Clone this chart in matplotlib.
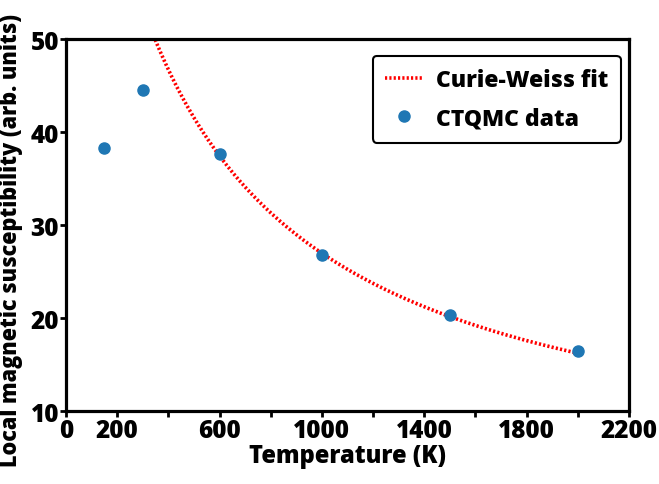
import numpy as np
import matplotlib
matplotlib.use("Agg")
import matplotlib.pyplot as plt

# Data
temperature = [150, 300, 600, 1000, 1500, 2000]
chi_data = [38.3, 44.5, 37.6, 26.8, 20.3, 16.5]

# Curie-Weiss fit parameters: chi = chi0 + C / (T - theta)
cw_chi0 = 1.4
cw_C = 35200.0
cw_theta = -377.0
fit_T_min, fit_T_max = 300, 2000

x_ticks = list(range(0, 2201, 200))
x_tick_labels = ["0", "200", "", "600", "", "1000", "", "1400", "", "1800", "", "2200"]
y_ticks = [10, 20, 30, 40, 50]

plt.rcParams['font.family'] = ['Open Sans', 'DejaVu Sans']
W = 'heavy'
plt.rcParams['font.weight'] = W

fig = plt.figure(figsize=(6.59, 4.85), dpi=100)
ax = fig.add_axes([0.1002, 0.1505, 0.8543, 0.767])

T_fit = np.linspace(fit_T_min, fit_T_max, 400)
chi_fit = cw_chi0 + cw_C / (T_fit - cw_theta)
ax.plot(T_fit, chi_fit, linestyle=(0, (0.6, 0.6)), color='#ff0000', lw=2.6,
        label='Curie-Weiss fit')
ax.plot(temperature, chi_data, 'o', color='#1f77b4', markersize=8,
        label='CTQMC data', zorder=3)

ax.set_xlim(0, 2200)
ax.set_ylim(10, 50)
ax.set_xticks(x_ticks)
ax.set_xticklabels(x_tick_labels)
ax.set_yticks(y_ticks)

for s in ax.spines.values():
    s.set_linewidth(2.3)
ax.tick_params(direction='out', length=4, width=2, labelsize=17.5, pad=1)
for lab in ax.get_xticklabels() + ax.get_yticklabels():
    lab.set_fontweight(W)

ax.set_xlabel('Temperature (K)', fontsize=17, fontweight=W, labelpad=0)
ax.set_ylabel('Local magnetic susceptibility (arb. units)', fontsize=15.6,
              fontweight=W)
ax.yaxis.set_label_coords(-0.077, 0.462)

leg = ax.legend(loc='upper right', bbox_to_anchor=(0.985, 0.955), fontsize=16.5,
                frameon=True, fancybox=True, edgecolor='black',
                handlelength=1.6, borderpad=0.55, labelspacing=0.6,
                handletextpad=0.6, borderaxespad=0)
leg.get_frame().set_linewidth(1.5)
leg.get_frame().set_alpha(1)
for t in leg.get_texts():
    t.set_fontweight(W)

fig.savefig('out.png', dpi=100)
